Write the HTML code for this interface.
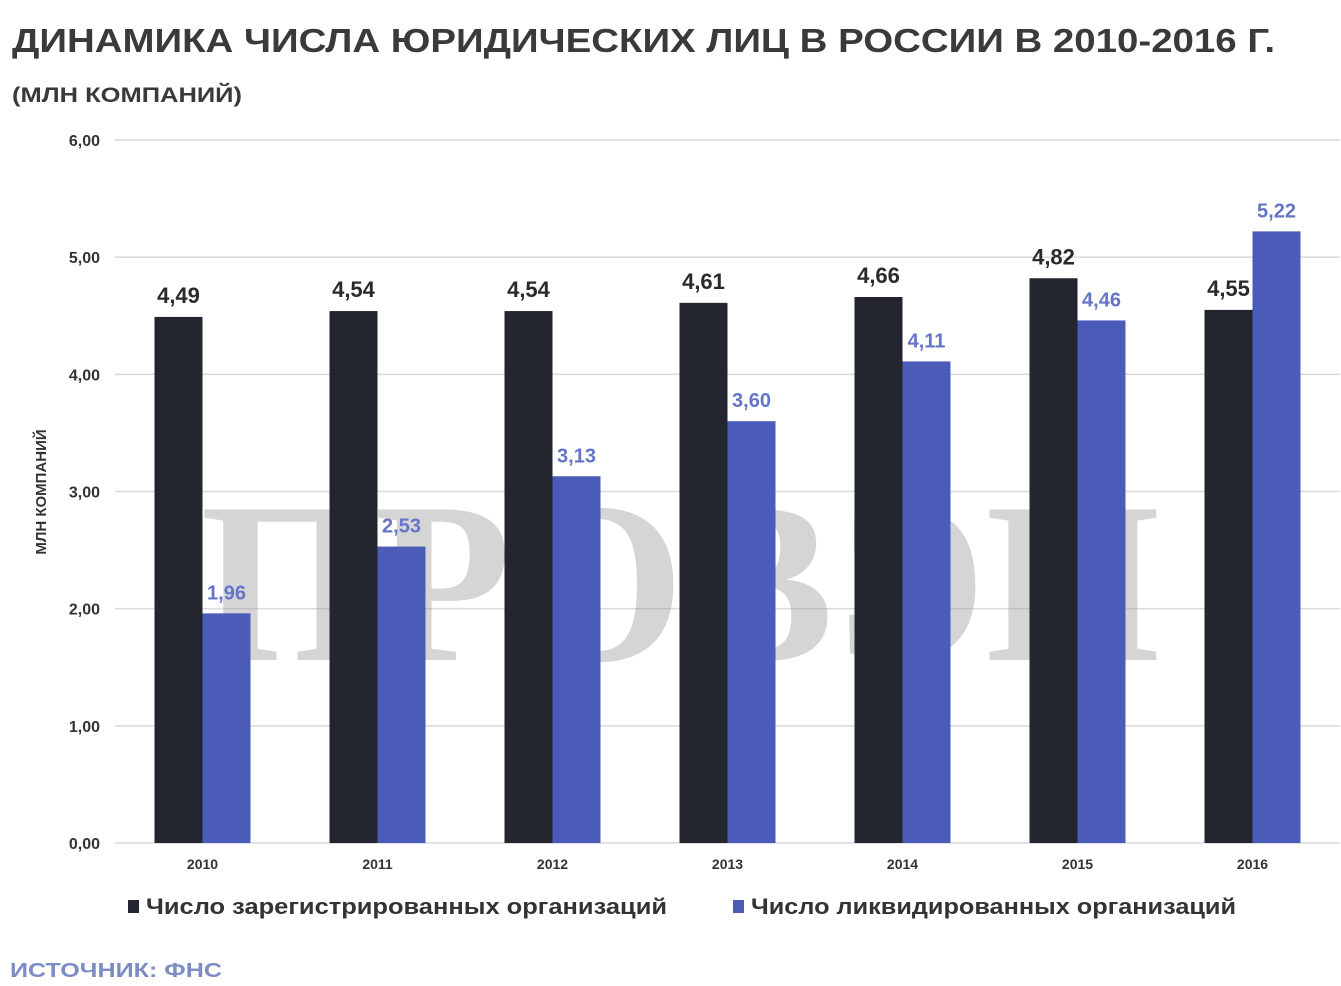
<!DOCTYPE html>
<html><head><meta charset="utf-8"><style>
body{margin:0;background:#fff;width:1341px;height:981px;overflow:hidden;font-family:"Liberation Sans",sans-serif}
</style></head><body>
<svg id="c" width="1341" height="981" xmlns="http://www.w3.org/2000/svg">
<text x="12" y="52" font-size="33" font-weight="bold" fill="#3a3a3a" textLength="1263" lengthAdjust="spacingAndGlyphs">ДИНАМИКА ЧИСЛА ЮРИДИЧЕСКИХ ЛИЦ В РОССИИ В 2010-2016 Г.</text>
<text x="12" y="102" font-size="21" font-weight="bold" fill="#3a3a3a" textLength="230" lengthAdjust="spacingAndGlyphs">(МЛН КОМПАНИЙ)</text>
<text transform="translate(46,492) rotate(-90)" text-anchor="middle" font-size="15" font-weight="bold" fill="#333">МЛН КОМПАНИЙ</text>
<g id="grid"></g>
<text x="200" y="660" font-family="Liberation Serif,serif" font-size="230" font-weight="bold" fill="#999" opacity="0.4" textLength="960" lengthAdjust="spacingAndGlyphs">ПРОВЭЙ</text>
<g id="bars"></g>
<rect x="128" y="900" width="11" height="13" fill="#23252f"/>
<text x="146" y="914" font-size="22" font-weight="bold" fill="#333" textLength="521" lengthAdjust="spacingAndGlyphs">Число зарегистрированных организаций</text>
<rect x="733" y="900" width="11" height="13" fill="#4b5bb8"/>
<text x="751" y="914" font-size="22" font-weight="bold" fill="#333" textLength="485" lengthAdjust="spacingAndGlyphs">Число ликвидированных организаций</text>
<text x="10" y="977" font-size="20" font-weight="bold" fill="#7d8cc4" textLength="212" lengthAdjust="spacingAndGlyphs">ИСТОЧНИК: ФНС</text>
</svg>
<script>
const categories=["2010","2011","2012","2013","2014","2015","2016"];
const registered=[4.49,4.54,4.54,4.61,4.66,4.82,4.55];
const liquidated=[1.96,2.53,3.13,3.60,4.11,4.46,5.22];
const yTicks=[0,1,2,3,4,5,6];
const NS="http://www.w3.org/2000/svg";
const x0=115,x1=1340,y0=843,y1=140,ymax=6;
const y=v=>y0-(v/ymax)*(y0-y1);
const band=(x1-x0)/categories.length;
const cx=i=>x0+band*(i+0.5);
const bw=48;
function mk(tag,attrs,parent,txt){const e=document.createElementNS(NS,tag);for(const k in attrs)e.setAttribute(k,attrs[k]);if(txt!==undefined)e.textContent=txt;parent.appendChild(e);return e;}
const g=document.getElementById('grid'),b=document.getElementById('bars');
yTicks.forEach(t=>{
 const l=mk('line',{x1:x0,x2:x1,y1:y(t),y2:y(t),stroke:'#d9d9d9','stroke-width':1.5},g);
 
 
 const tx=mk('text',{x:100,y:y(t)+6,'text-anchor':'end','font-size':16,'font-weight':'bold',fill:'#333'},g,t.toFixed(2).replace('.',','));
 
 
});
categories.forEach((c,i)=>{
 const r1=mk('rect',{x:cx(i)-bw,y:y(registered[i]),width:bw,height:y0-y(registered[i]),fill:'#23252f'},b);
 
 
 const r2=mk('rect',{x:cx(i),y:y(liquidated[i]),width:bw,height:y0-y(liquidated[i]),fill:'#4b5bb8'},b);
 
 
 const l1=mk('text',{x:cx(i)-bw/2,y:y(registered[i])-14,'text-anchor':'middle','font-size':22,'font-weight':'bold',fill:'#2a2a2a'},b,registered[i].toFixed(2).replace('.',','));
 
 
 const l2=mk('text',{x:cx(i)+bw/2,y:y(liquidated[i])-14,'text-anchor':'middle','font-size':20,'font-weight':'bold',fill:'#6475c8'},b,liquidated[i].toFixed(2).replace('.',','));
 
 
 const xl=mk('text',{x:cx(i),y:869,'text-anchor':'middle','font-size':14,'font-weight':'bold',fill:'#333'},b,c);
 
 
});
</script>
</body></html>
